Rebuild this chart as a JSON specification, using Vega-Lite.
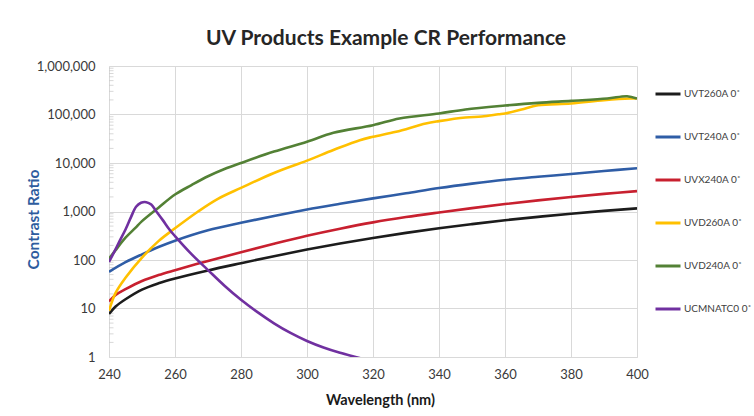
{
  "$schema": "https://vega.github.io/schema/vega-lite/v6.json",
  "width": 528,
  "height": 291,
  "autosize": {"type": "none"},
  "padding": {"left": 109, "top": 66, "right": 117, "bottom": 59},
  "background": "white",
  "title": {
    "text": "UV Products Example CR Performance",
    "font": "Lato",
    "fontSize": 21,
    "fontWeight": "bold",
    "color": "#262626",
    "anchor": "middle",
    "dx": 13,
    "offset": 11
  },
  "config": {
    "view": {"stroke": null},
    "font": "Lato",
    "axis": {
      "labelFont": "Lato",
      "labelFontSize": 13,
      "labelColor": "#3a3a3a",
      "labelFlush": false,
      "gridColor": "#d9d9d9",
      "gridWidth": 1,
      "domainColor": "#d9d9d9",
      "ticks": false,
      "titleFont": "Lato",
      "titleFontWeight": "bold"
    },
    "legend": {
      "labelFont": "Lato",
      "labelFontSize": 10,
      "labelColor": "#404040",
      "labelLimit": 200
    }
  },
  "datasets": {
    "curves": [
      {"s": "UVT260A 0˚", "nm": 240, "v": 7.7},
      {"s": "UVT260A 0˚", "nm": 242, "v": 11},
      {"s": "UVT260A 0˚", "nm": 245, "v": 15.5},
      {"s": "UVT260A 0˚", "nm": 250, "v": 24.5},
      {"s": "UVT260A 0˚", "nm": 255, "v": 33.1},
      {"s": "UVT260A 0˚", "nm": 260, "v": 41.7},
      {"s": "UVT260A 0˚", "nm": 270, "v": 61},
      {"s": "UVT260A 0˚", "nm": 280, "v": 86},
      {"s": "UVT260A 0˚", "nm": 290, "v": 120},
      {"s": "UVT260A 0˚", "nm": 300, "v": 164},
      {"s": "UVT260A 0˚", "nm": 310, "v": 219},
      {"s": "UVT260A 0˚", "nm": 320, "v": 285},
      {"s": "UVT260A 0˚", "nm": 330, "v": 363},
      {"s": "UVT260A 0˚", "nm": 340, "v": 452},
      {"s": "UVT260A 0˚", "nm": 350, "v": 550},
      {"s": "UVT260A 0˚", "nm": 360, "v": 661},
      {"s": "UVT260A 0˚", "nm": 370, "v": 776},
      {"s": "UVT260A 0˚", "nm": 380, "v": 902},
      {"s": "UVT260A 0˚", "nm": 390, "v": 1028},
      {"s": "UVT260A 0˚", "nm": 400, "v": 1161},

      {"s": "UVT240A 0˚", "nm": 240, "v": 57},
      {"s": "UVT240A 0˚", "nm": 245, "v": 90},
      {"s": "UVT240A 0˚", "nm": 250, "v": 131},
      {"s": "UVT240A 0˚", "nm": 255, "v": 185},
      {"s": "UVT240A 0˚", "nm": 260, "v": 250},
      {"s": "UVT240A 0˚", "nm": 270, "v": 410},
      {"s": "UVT240A 0˚", "nm": 280, "v": 585},
      {"s": "UVT240A 0˚", "nm": 290, "v": 810},
      {"s": "UVT240A 0˚", "nm": 300, "v": 1100},
      {"s": "UVT240A 0˚", "nm": 310, "v": 1440},
      {"s": "UVT240A 0˚", "nm": 320, "v": 1862},
      {"s": "UVT240A 0˚", "nm": 330, "v": 2371},
      {"s": "UVT240A 0˚", "nm": 340, "v": 3040},
      {"s": "UVT240A 0˚", "nm": 350, "v": 3750},
      {"s": "UVT240A 0˚", "nm": 360, "v": 4500},
      {"s": "UVT240A 0˚", "nm": 370, "v": 5200},
      {"s": "UVT240A 0˚", "nm": 380, "v": 5940},
      {"s": "UVT240A 0˚", "nm": 390, "v": 6850},
      {"s": "UVT240A 0˚", "nm": 400, "v": 7800},

      {"s": "UVX240A 0˚", "nm": 240, "v": 14},
      {"s": "UVX240A 0˚", "nm": 242, "v": 19},
      {"s": "UVX240A 0˚", "nm": 245, "v": 25},
      {"s": "UVX240A 0˚", "nm": 250, "v": 37},
      {"s": "UVX240A 0˚", "nm": 255, "v": 49},
      {"s": "UVX240A 0˚", "nm": 260, "v": 61.7},
      {"s": "UVX240A 0˚", "nm": 270, "v": 95.5},
      {"s": "UVX240A 0˚", "nm": 280, "v": 144.5},
      {"s": "UVX240A 0˚", "nm": 290, "v": 216},
      {"s": "UVX240A 0˚", "nm": 300, "v": 316},
      {"s": "UVX240A 0˚", "nm": 310, "v": 442},
      {"s": "UVX240A 0˚", "nm": 320, "v": 596},
      {"s": "UVX240A 0˚", "nm": 330, "v": 767},
      {"s": "UVX240A 0˚", "nm": 340, "v": 955},
      {"s": "UVX240A 0˚", "nm": 350, "v": 1175},
      {"s": "UVX240A 0˚", "nm": 360, "v": 1422},
      {"s": "UVX240A 0˚", "nm": 370, "v": 1698},
      {"s": "UVX240A 0˚", "nm": 380, "v": 1995},
      {"s": "UVX240A 0˚", "nm": 390, "v": 2307},
      {"s": "UVX240A 0˚", "nm": 400, "v": 2630},

      {"s": "UVD260A  0˚", "nm": 240, "v": 9},
      {"s": "UVD260A  0˚", "nm": 242, "v": 21},
      {"s": "UVD260A  0˚", "nm": 245, "v": 43},
      {"s": "UVD260A  0˚", "nm": 250, "v": 112},
      {"s": "UVD260A  0˚", "nm": 255, "v": 245},
      {"s": "UVD260A  0˚", "nm": 260, "v": 450},
      {"s": "UVD260A  0˚", "nm": 267, "v": 1000},
      {"s": "UVD260A  0˚", "nm": 273, "v": 1820},
      {"s": "UVD260A  0˚", "nm": 280, "v": 3065},
      {"s": "UVD260A  0˚", "nm": 290, "v": 6240},
      {"s": "UVD260A  0˚", "nm": 300, "v": 11200},
      {"s": "UVD260A  0˚", "nm": 308, "v": 18500},
      {"s": "UVD260A  0˚", "nm": 316, "v": 29600},
      {"s": "UVD260A  0˚", "nm": 320, "v": 34800},
      {"s": "UVD260A  0˚", "nm": 327, "v": 44100},
      {"s": "UVD260A  0˚", "nm": 336, "v": 65300},
      {"s": "UVD260A  0˚", "nm": 340, "v": 73000},
      {"s": "UVD260A  0˚", "nm": 348, "v": 86700},
      {"s": "UVD260A  0˚", "nm": 353, "v": 91000},
      {"s": "UVD260A  0˚", "nm": 358, "v": 101000},
      {"s": "UVD260A  0˚", "nm": 360, "v": 105000},
      {"s": "UVD260A  0˚", "nm": 365, "v": 127000},
      {"s": "UVD260A  0˚", "nm": 370, "v": 155000},
      {"s": "UVD260A  0˚", "nm": 380, "v": 168000},
      {"s": "UVD260A  0˚", "nm": 390, "v": 197000},
      {"s": "UVD260A  0˚", "nm": 398, "v": 213000},
      {"s": "UVD260A  0˚", "nm": 400, "v": 213000},

      {"s": "UVD240A 0˚", "nm": 240, "v": 106},
      {"s": "UVD240A 0˚", "nm": 242, "v": 160},
      {"s": "UVD240A 0˚", "nm": 245, "v": 288},
      {"s": "UVD240A 0˚", "nm": 248, "v": 460},
      {"s": "UVD240A 0˚", "nm": 250, "v": 633},
      {"s": "UVD240A 0˚", "nm": 255, "v": 1200},
      {"s": "UVD240A 0˚", "nm": 260, "v": 2240},
      {"s": "UVD240A 0˚", "nm": 265, "v": 3500},
      {"s": "UVD240A 0˚", "nm": 270, "v": 5320},
      {"s": "UVD240A 0˚", "nm": 275, "v": 7500},
      {"s": "UVD240A 0˚", "nm": 280, "v": 10000},
      {"s": "UVD240A 0˚", "nm": 290, "v": 17200},
      {"s": "UVD240A 0˚", "nm": 300, "v": 27400},
      {"s": "UVD240A 0˚", "nm": 308, "v": 42000},
      {"s": "UVD240A 0˚", "nm": 320, "v": 60000},
      {"s": "UVD240A 0˚", "nm": 328, "v": 82800},
      {"s": "UVD240A 0˚", "nm": 340, "v": 105000},
      {"s": "UVD240A 0˚", "nm": 348, "v": 127000},
      {"s": "UVD240A 0˚", "nm": 360, "v": 153000},
      {"s": "UVD240A 0˚", "nm": 370, "v": 174000},
      {"s": "UVD240A 0˚", "nm": 380, "v": 191000},
      {"s": "UVD240A 0˚", "nm": 391, "v": 213000},
      {"s": "UVD240A 0˚", "nm": 397, "v": 238000},
      {"s": "UVD240A 0˚", "nm": 400, "v": 213000},

      {"s": "UCMNATC0 0˚", "nm": 240, "v": 91},
      {"s": "UCMNATC0 0˚", "nm": 241.7, "v": 153},
      {"s": "UCMNATC0 0˚", "nm": 243.2, "v": 245},
      {"s": "UCMNATC0 0˚", "nm": 245, "v": 426},
      {"s": "UCMNATC0 0˚", "nm": 246.7, "v": 776},
      {"s": "UCMNATC0 0˚", "nm": 248.2, "v": 1250},
      {"s": "UCMNATC0 0˚", "nm": 249.7, "v": 1510},
      {"s": "UCMNATC0 0˚", "nm": 251.3, "v": 1555},
      {"s": "UCMNATC0 0˚", "nm": 252.8, "v": 1390},
      {"s": "UCMNATC0 0˚", "nm": 254.3, "v": 1015},
      {"s": "UCMNATC0 0˚", "nm": 256.3, "v": 664},
      {"s": "UCMNATC0 0˚", "nm": 258.3, "v": 427},
      {"s": "UCMNATC0 0˚", "nm": 260, "v": 311},
      {"s": "UCMNATC0 0˚", "nm": 265, "v": 132},
      {"s": "UCMNATC0 0˚", "nm": 270, "v": 62},
      {"s": "UCMNATC0 0˚", "nm": 275, "v": 29.5},
      {"s": "UCMNATC0 0˚", "nm": 280, "v": 15.1},
      {"s": "UCMNATC0 0˚", "nm": 285, "v": 8.4},
      {"s": "UCMNATC0 0˚", "nm": 290, "v": 4.95},
      {"s": "UCMNATC0 0˚", "nm": 295, "v": 3.13},
      {"s": "UCMNATC0 0˚", "nm": 300, "v": 2.14},
      {"s": "UCMNATC0 0˚", "nm": 305, "v": 1.57},
      {"s": "UCMNATC0 0˚", "nm": 310, "v": 1.22},
      {"s": "UCMNATC0 0˚", "nm": 315, "v": 0.99},
      {"s": "UCMNATC0 0˚", "nm": 317, "v": 0.91}
    ],
    "minor": [
      {"nm": 240, "v": 2}, {"nm": 240, "v": 3}, {"nm": 240, "v": 4}, {"nm": 240, "v": 5}, {"nm": 240, "v": 6}, {"nm": 240, "v": 7}, {"nm": 240, "v": 8}, {"nm": 240, "v": 9},
      {"nm": 240, "v": 20}, {"nm": 240, "v": 30}, {"nm": 240, "v": 40}, {"nm": 240, "v": 50}, {"nm": 240, "v": 60}, {"nm": 240, "v": 70}, {"nm": 240, "v": 80}, {"nm": 240, "v": 90},
      {"nm": 240, "v": 200}, {"nm": 240, "v": 300}, {"nm": 240, "v": 400}, {"nm": 240, "v": 500}, {"nm": 240, "v": 600}, {"nm": 240, "v": 700}, {"nm": 240, "v": 800}, {"nm": 240, "v": 900},
      {"nm": 240, "v": 2000}, {"nm": 240, "v": 3000}, {"nm": 240, "v": 4000}, {"nm": 240, "v": 5000}, {"nm": 240, "v": 6000}, {"nm": 240, "v": 7000}, {"nm": 240, "v": 8000}, {"nm": 240, "v": 9000},
      {"nm": 240, "v": 20000}, {"nm": 240, "v": 30000}, {"nm": 240, "v": 40000}, {"nm": 240, "v": 50000}, {"nm": 240, "v": 60000}, {"nm": 240, "v": 70000}, {"nm": 240, "v": 80000}, {"nm": 240, "v": 90000},
      {"nm": 240, "v": 200000}, {"nm": 240, "v": 300000}, {"nm": 240, "v": 400000}, {"nm": 240, "v": 500000}, {"nm": 240, "v": 600000}, {"nm": 240, "v": 700000}, {"nm": 240, "v": 800000}, {"nm": 240, "v": 900000}
    ]
  },
  "layer": [
    {
      "data": {"name": "minor"},
      "mark": {"type": "tick", "orient": "horizontal", "size": 9, "thickness": 1, "color": "#c8c8c8", "clip": true},
      "encoding": {
        "x": {"field": "nm", "type": "quantitative", "scale": {"domain": [240, 400], "nice": false, "zero": false}},
        "y": {"field": "v", "type": "quantitative", "scale": {"type": "log", "domain": [1, 1000000], "nice": false}}
      }
    },
    {
      "data": {"name": "curves"},
      "mark": {"type": "line", "strokeWidth": 2.6, "interpolate": "catmull-rom", "clip": true},
      "encoding": {
        "x": {
          "field": "nm",
          "type": "quantitative",
          "scale": {"domain": [240, 400], "nice": false, "zero": false},
          "axis": {
            "values": [240, 260, 280, 300, 320, 340, 360, 380, 400],
            "title": "Wavelength (nm)",
            "titleColor": "#1a1a1a",
            "titleFontSize": 14.5,
            "labelPadding": 11,
            "titlePadding": 12,
            "titleX": 271
          }
        },
        "y": {
          "field": "v",
          "type": "quantitative",
          "scale": {"type": "log", "domain": [1, 1000000], "nice": false},
          "axis": {
            "values": [1, 10, 100, 1000, 10000, 100000, 1000000],
            "format": ",",
            "title": "Contrast Ratio",
            "titleColor": "#2E5C9E",
            "titleFontSize": 15.5,
            "labelPadding": 14,
            "titleX": -76,
            "titleY": 153,
            "titleAngle": 270,
            "titleAlign": "center",
            "titleBaseline": "middle"
          }
        },
        "color": {
          "field": "s",
          "type": "nominal",
          "sort": null,
          "scale": {
            "domain": ["UVT260A 0˚", "UVT240A 0˚", "UVX240A 0˚", "UVD260A  0˚", "UVD240A 0˚", "UCMNATC0 0˚"],
            "range": ["#1c1c1c", "#2F5DA6", "#C8202F", "#FFC000", "#538135", "#7030A0"]
          },
          "legend": {
            "title": null,
            "orient": "none",
            "legendX": 545,
            "legendY": 14,
            "symbolType": "stroke",
            "symbolSize": 625,
            "symbolStrokeWidth": 3,
            "labelOffset": 2,
            "rowPadding": 23
          }
        }
      }
    }
  ]
}
